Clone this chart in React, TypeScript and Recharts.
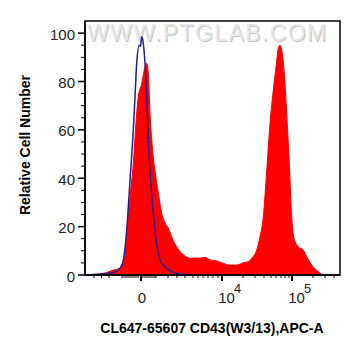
import React from 'react';
import { ComposedChart, Area, Line, XAxis, YAxis, ReferenceArea } from 'recharts';

// x values are display-channel positions on the biexponential axis (0..255)
const stainedX = [0, 10, 20, 28, 35, 38.3, 41.7, 45, 48.3, 51.7, 53.3, 56.7, 60, 61.7, 63.3, 65, 66.7, 70, 73.3, 76.7, 80, 83.3, 86.7, 91.7, 96.7, 101.7, 105, 110, 115, 120, 125, 131.7, 138.3, 145, 151.7, 158.3, 163.3, 166.7, 171.7, 175, 178.3, 181.7, 185, 188.3, 191, 193.3, 195, 196.7, 199.3, 201.7, 204.3, 206.7, 209, 213.3, 218.3, 221.7, 226.7, 233.3, 238.3, 255];
const stainedY = [0, 0.3, 0.8, 2, 2.8, 6, 15.8, 32, 46, 67, 73.7, 79, 86, 87.5, 83.5, 67, 56, 43, 34, 25.6, 21.5, 19.4, 15.7, 11.6, 9, 7.4, 6.9, 7, 6.9, 7.3, 6.2, 5.8, 4.8, 4.1, 4.1, 5.1, 5.5, 6.9, 10.3, 15.8, 24, 43, 62.7, 76.4, 86, 93.7, 95, 93, 83.3, 66.8, 46, 24, 15.1, 11.7, 10.3, 7.6, 4.1, 1.4, 0, 0];

const isotypeX = [0, 10, 20, 28.3, 35, 38.3, 41.7, 45, 48.3, 50, 51.7, 54.3, 55.5, 56.7, 58.3, 60, 61.7, 63.3, 65.7, 68.3, 71.7, 75, 80, 86.7, 95, 105];
const isotypeY = [0, 0.2, 0.5, 1, 2.8, 6, 18.6, 39, 60, 73.7, 87.5, 95, 94.5, 98.5, 95.7, 87.5, 73.7, 56, 39, 25.5, 13, 6.2, 3.4, 1.4, 0.5, 0];

const yTicks = [0, 5, 10, 15, 20, 25, 30, 35, 40, 45, 50, 55, 60, 65, 70, 75, 80, 85, 90, 95, 100];
const xMajorTicks = [56, 137, 207];
const xMajorLabels = ['0', '10|4', '10|5'];
const xMinorTicks = [9, 16.5, 24, 37, 39, 41, 43, 45, 47, 49, 51, 53, 58, 60, 62, 64, 66, 68, 70, 71, 83, 92, 100, 108, 113, 118, 123, 128, 133, 158, 170, 179, 186, 191, 196, 200, 204, 228, 240, 249];

const stained = stainedX.map((x, i) => ({ x, y: stainedY[i] }));
const isotype = isotypeX.map((x, i) => ({ x, y: isotypeY[i] }));
const xTicks = [...xMajorTicks, ...xMinorTicks].sort((a, b) => a - b);

const FONT = 'Arial, "Liberation Sans", sans-serif';

const YTick = (props: any) => {
  const { x, y, payload } = props;
  const v = payload.value;
  const major = v % 20 === 0;
  return (
    <g>
      <line x1={x - (major ? 7 : 4)} x2={x} y1={y} y2={y} stroke="#000" strokeWidth={major ? 1.5 : 1} />
      {major && (
        <text x={x - 10} y={y + 1} textAnchor="end" dominantBaseline="central" fontSize={15} fontFamily={FONT} fill="#222">
          {v}
        </text>
      )}
    </g>
  );
};

const XTick = (props: any) => {
  const { x, y, payload } = props;
  const v = payload.value;
  const idx = xMajorTicks.indexOf(v);
  const major = idx >= 0;
  let label: React.ReactNode = null;
  if (major) {
    const parts = xMajorLabels[idx].split('|');
    if (parts.length === 1) {
      label = (
        <text x={x + 1} y={y + 28} textAnchor="middle" fontSize={15} fontFamily={FONT} fill="#222">{parts[0]}</text>
      );
    } else {
      label = (
        <g>
          <text x={x + 4.5} y={y + 28} textAnchor="middle" fontSize={15} fontFamily={FONT} fill="#222">{parts[0]}</text>
          <text x={x + 12} y={y + 18} textAnchor="start" fontSize={13} fontFamily={FONT} fill="#222">{parts[1]}</text>
        </g>
      );
    }
  }
  return (
    <g>
      <line x1={x} x2={x} y1={y} y2={y + (major ? 6 : 3)} stroke="#000" strokeWidth={major ? 2 : 1} />
      {label}
    </g>
  );
};

export default function App() {
  return (
    <div style={{ position: 'absolute', left: 0, top: 0, width: 361, height: 356, background: '#fff', overflow: 'hidden' }}>
      <div
        style={{
          position: 'absolute', left: 87, top: 21, fontFamily: FONT, fontSize: 23, letterSpacing: 1.4,
          color: '#e6e6e6', textShadow: '1px 1px 0 #c4c4c4', whiteSpace: 'nowrap', lineHeight: '24px',
        }}
      >
        WWW.PTGLAB.COM
      </div>
      <div style={{ position: 'absolute', left: 0, top: 0 }}>
        <ComposedChart width={361} height={356} margin={{ top: 21, right: 21, left: 0, bottom: 0 }}>
          <XAxis
            type="number"
            dataKey="x"
            domain={[0, 255]}
            ticks={xTicks}
            interval={0}
            tick={<XTick />}
            tickLine={false}
            tickSize={0}
            tickMargin={0}
            axisLine={{ stroke: '#000', strokeWidth: 1.5 }}
            height={81}
            allowDataOverflow
          />
          <YAxis
            type="number"
            domain={[0, 105]}
            ticks={yTicks}
            interval={0}
            tick={<YTick />}
            tickLine={false}
            tickSize={0}
            tickMargin={0}
            axisLine={{ stroke: '#000', strokeWidth: 1.5 }}
            width={85}
            allowDataOverflow
          />
          <Area
            data={stained}
            dataKey="y"
            type="monotone"
            fill="#ff0000"
            fillOpacity={1}
            stroke="#ff0000"
            strokeWidth={1}
            isAnimationActive={false}
          />
          <Line
            data={isotype}
            dataKey="y"
            type="monotone"
            stroke="#1e1e96"
            strokeWidth={1.5}
            dot={false}
            isAnimationActive={false}
          />
          <ReferenceArea x1={0} x2={255} y1={0} y2={105} fill="none" stroke="#000" strokeWidth={1.5} />
        </ComposedChart>
      </div>
      <div
        style={{
          position: 'absolute', left: -75, top: 135, width: 200, height: 20, lineHeight: '20px', textAlign: 'center',
          transform: 'rotate(-90deg)', fontFamily: FONT, fontWeight: 'bold', fontSize: 14, color: '#000', whiteSpace: 'nowrap',
        }}
      >
        Relative Cell Number
      </div>
      <div
        style={{
          position: 'absolute', left: 62, top: 318, width: 300, height: 20, lineHeight: '20px', textAlign: 'center',
          fontFamily: FONT, fontWeight: 'bold', fontSize: 14, color: '#000', whiteSpace: 'nowrap',
        }}
      >
        CL647-65607 CD43(W3/13),APC-A
      </div>
    </div>
  );
}
